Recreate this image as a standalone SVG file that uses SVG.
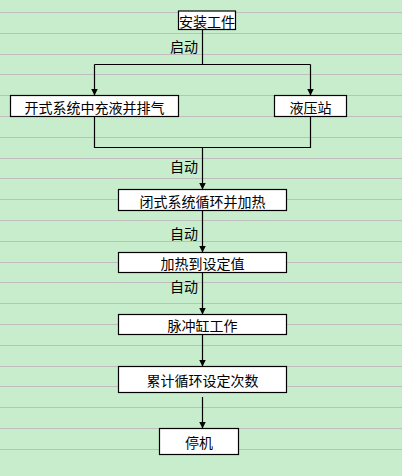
<svg xmlns="http://www.w3.org/2000/svg" width="402" height="476" viewBox="0 0 402 476">
<defs>
<style>
.bg{fill:#C7EDCC}
.grid line{stroke:#BEBEBE;stroke-width:1}
.node rect{fill:#FFFFFF;stroke:#000000;stroke-width:1.2}
.node text,.lbl{font-family:"Noto Sans CJK SC","Noto Sans",sans-serif;font-size:14px;fill:#000000;dominant-baseline:central}
.node text{text-anchor:middle}
.lbl{text-anchor:end}
.conn path{fill:none;stroke:#000000;stroke-width:1.2}
.arrow{marker-end:url(#ah)}
</style>
<marker id="ah" viewBox="0 0 7 7" refX="7" refY="3.5" markerWidth="7" markerHeight="7" markerUnits="userSpaceOnUse" orient="auto">
<path d="M0,0 L7,3.5 L0,7 Z" fill="#000000"/>
</marker>
</defs>
<rect class="bg" x="0" y="0" width="402" height="476"/>
<g class="grid">
<line x1="0" x2="402" y1="12.5" y2="12.5"/>
<line x1="0" x2="402" y1="33.5" y2="33.5"/>
<line x1="0" x2="402" y1="54.5" y2="54.5"/>
<line x1="0" x2="402" y1="74.5" y2="74.5"/>
<line x1="0" x2="402" y1="95.5" y2="95.5"/>
<line x1="0" x2="402" y1="116.5" y2="116.5"/>
<line x1="0" x2="402" y1="137.5" y2="137.5"/>
<line x1="0" x2="402" y1="158.5" y2="158.5"/>
<line x1="0" x2="402" y1="178.5" y2="178.5"/>
<line x1="0" x2="402" y1="199.5" y2="199.5"/>
<line x1="0" x2="402" y1="220.5" y2="220.5"/>
<line x1="0" x2="402" y1="241.5" y2="241.5"/>
<line x1="0" x2="402" y1="262.5" y2="262.5"/>
<line x1="0" x2="402" y1="282.5" y2="282.5"/>
<line x1="0" x2="402" y1="303.5" y2="303.5"/>
<line x1="0" x2="402" y1="324.5" y2="324.5"/>
<line x1="0" x2="402" y1="345.5" y2="345.5"/>
<line x1="0" x2="402" y1="366.5" y2="366.5"/>
<line x1="0" x2="402" y1="386.5" y2="386.5"/>
<line x1="0" x2="402" y1="407.5" y2="407.5"/>
<line x1="0" x2="402" y1="428.5" y2="428.5"/>
<line x1="0" x2="402" y1="449.5" y2="449.5"/>
</g>
<g class="conn">
<path d="M202.5,29.5 V64.5 M94.5,64.5 H310.5"/>
<path class="arrow" d="M94.5,64.5 V95.5"/>
<path class="arrow" d="M310.5,64.5 V95.5"/>
<path d="M94.5,116.5 V147.5 H310.5 V116.5"/>
<path class="arrow" d="M202.5,147.5 V189.5"/>
<path class="arrow" d="M202.5,210.5 V252.5"/>
<path class="arrow" d="M202.5,272.5 V314.5"/>
<path class="arrow" d="M202.5,334.5 V366.5"/>
<path class="arrow" d="M202.5,397 V428.5"/>
<text class="lbl" x="198" y="46">启动</text>
<text class="lbl" x="198" y="166">自动</text>
<text class="lbl" x="198" y="233">自动</text>
<text class="lbl" x="198" y="286">自动</text>
</g>
<g id="n1" class="node"><rect x="178.5" y="11" width="57" height="18.5"/><text x="207" y="20.5">安装工件</text></g>
<g id="n2" class="node"><rect x="10.5" y="95.5" width="168" height="21"/><text x="94.5" y="106.5">开式系统中充液并排气</text></g>
<g id="n3" class="node"><rect x="274.5" y="95.5" width="72" height="21"/><text x="310.5" y="106.5">液压站</text></g>
<g id="n4" class="node"><rect x="118.5" y="189.5" width="168" height="21"/><text x="202.5" y="200.5">闭式系统循环并加热</text></g>
<g id="n5" class="node"><rect x="118.5" y="252.5" width="168" height="20"/><text x="202.5" y="263">加热到设定值</text></g>
<g id="n6" class="node"><rect x="118.5" y="314.5" width="168" height="20"/><text x="202.5" y="325">脉冲缸工作</text></g>
<g id="n7" class="node"><rect x="118.5" y="366.5" width="168" height="26"/><text x="202.5" y="380">累计循环设定次数</text></g>
<g id="n8" class="node"><rect x="159.5" y="428.5" width="79" height="26"/><text x="199" y="442">停机</text></g>
</svg>
